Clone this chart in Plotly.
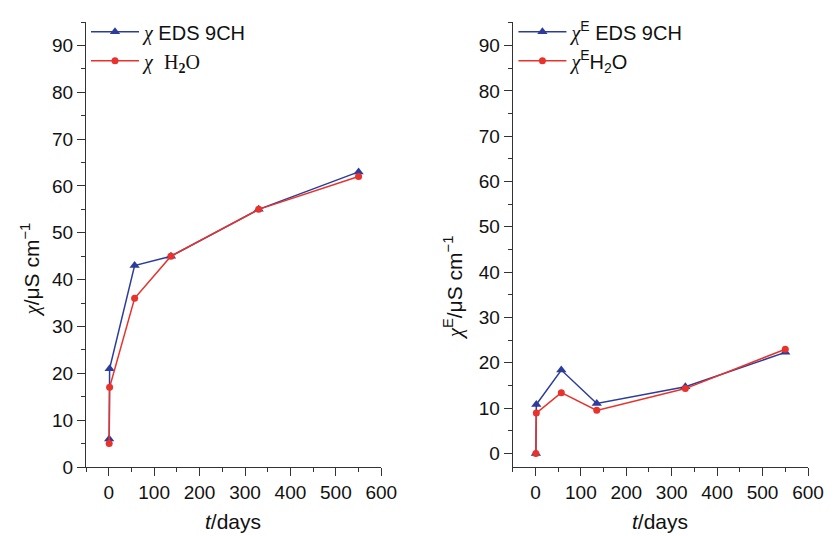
import plotly.graph_objects as go

# Conductivity vs. time (days)
t_left = [1, 2, 57, 137, 330, 550]
chi_eds = [6, 21, 43, 45, 55, 63]
chi_h2o = [5, 17, 36, 45, 55, 62]

t_right = [1, 2, 57, 135, 330, 550]
chiE_eds = [0, 10.8, 18.4, 11.0, 14.7, 22.3]
chiE_h2o = [0, 8.9, 13.4, 9.5, 14.3, 23.0]

x_ticks = [0, 100, 200, 300, 400, 500, 600]

BLUE = "#2c3c9c"
RED = "#e8322b"
SANS = "Liberation Sans, Arial, sans-serif"
SERIF = "Liberation Serif, Times New Roman, serif"
CHI = f"<span style='font-family:{SERIF}'><i>χ</i></span>"

fig = go.Figure()

fig.add_trace(go.Scatter(
    x=t_left, y=chi_eds, mode="lines+markers", name=f"{CHI} EDS 9CH",
    line=dict(color=BLUE, width=1.5),
    marker=dict(symbol="triangle-up", size=9, color=BLUE),
    xaxis="x", yaxis="y", legend="legend"))
fig.add_trace(go.Scatter(
    x=t_left, y=chi_h2o, mode="lines+markers",
    name=f"{CHI}  <span style='font-family:{SERIF}'>H<sub><b>2</b></sub>O</span>",
    line=dict(color=RED, width=1.5),
    marker=dict(symbol="circle", size=7, color=RED),
    xaxis="x", yaxis="y", legend="legend"))

fig.add_trace(go.Scatter(
    x=t_right, y=chiE_eds, mode="lines+markers", name=f"{CHI}<sup>E</sup> EDS 9CH",
    line=dict(color=BLUE, width=1.5),
    marker=dict(symbol="triangle-up", size=9, color=BLUE),
    xaxis="x2", yaxis="y2", legend="legend2"))
fig.add_trace(go.Scatter(
    x=t_right, y=chiE_h2o, mode="lines+markers", name=f"{CHI}<sup>E</sup>H<sub>2</sub>O",
    line=dict(color=RED, width=1.5),
    marker=dict(symbol="circle", size=7, color=RED),
    xaxis="x2", yaxis="y2", legend="legend2"))

axis_common = dict(
    showline=True, linecolor="#333333", linewidth=1,
    ticks="outside", ticklen=8, tickwidth=1, tickcolor="#333333",
    showgrid=False, zeroline=False,
    tickfont=dict(family=SANS, size=19, color="#111111"),
)

xcommon = dict(axis_common, range=[-50, 600], tickvals=x_ticks,
               minor=dict(ticks="outside", ticklen=4, dtick=50, tick0=0,
                          tickcolor="#333333", showgrid=False))

legend_font = dict(family=SANS, size=20, color="#111111")

fig.update_layout(
    width=836, height=536,
    margin=dict(l=86, r=19, t=18, b=69),
    paper_bgcolor="white", plot_bgcolor="white",
    showlegend=True,
    xaxis=dict(xcommon, domain=[0, 0.409], anchor="y"),
    yaxis=dict(axis_common, range=[0, 95], dtick=10, tick0=0, anchor="x",
               minor=dict(ticks="outside", ticklen=4, dtick=5, tick0=0,
                          tickcolor="#333333", showgrid=False)),
    xaxis2=dict(xcommon, domain=[0.591, 1], anchor="y2"),
    yaxis2=dict(axis_common, range=[-3, 95.2], dtick=10, tick0=0, anchor="x2",
                minor=dict(ticks="outside", ticklen=4, dtick=5, tick0=0,
                           tickcolor="#333333", showgrid=False)),
    legend=dict(x=0.0, y=1.022, xanchor="left", yanchor="top",
                bgcolor="rgba(0,0,0,0)", font=legend_font,
                itemwidth=48, tracegroupgap=0),
    legend2=dict(x=0.592, y=1.022, xanchor="left", yanchor="top",
                 bgcolor="rgba(0,0,0,0)", font=legend_font,
                 itemwidth=48, tracegroupgap=0),
)

title_font = dict(family=SANS, size=21, color="#111111")
common_ann = dict(xref="paper", yref="paper", showarrow=False, font=title_font,
                  xanchor="center", yanchor="middle")
fig.add_annotation(text=f"{CHI}/μS cm<sup>−1</sup>", x=-0.0766, y=0.443,
                   textangle=-90, **common_ann)
fig.add_annotation(text=f"{CHI}<sup>E</sup>/μS cm<sup>−1</sup>", x=0.509, y=0.405,
                   textangle=-90, **common_ann)
fig.add_annotation(text="<i>t</i>/days", x=0.204, y=-0.1225, **common_ann)
fig.add_annotation(text="<i>t</i>/days", x=0.795, y=-0.1225, **common_ann)

fig.write_html("out.html")
